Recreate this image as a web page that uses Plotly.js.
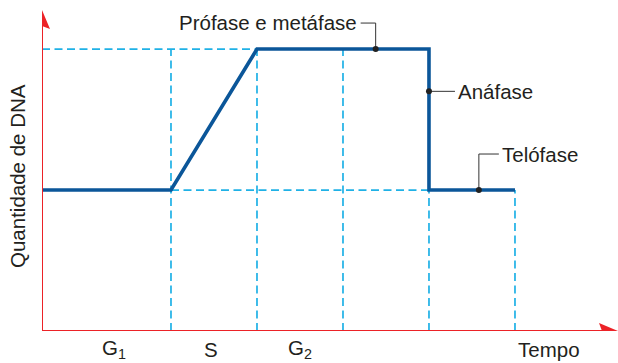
<!DOCTYPE html>
<html>
<head>
<meta charset="utf-8">
<script src="https://cdn.plot.ly/plotly-3.0.1.min.js"></script>
<style>html,body{margin:0;padding:0;background:#fff;}#chart{width:618px;height:363px;}</style>
</head>
<body>
<div id="chart"></div>
<script>
// ---- data ----
const timeX = [0, 1.5, 2.5, 4.5, 4.5, 5.5];
const dnaY  = [1, 1, 2, 2, 1, 1];
const phaseBounds = [1.5, 2.5, 3.5, 4.5, 5.5];
const boundTops   = [2, 2, 2, 1, 1];
const phaseLabels = ['G<sub>1</sub>', 'S', 'G<sub>2</sub>'];
const phaseLabelX = [0.84, 1.97, 3.0];
const eventLabels = ['Prófase e metáfase', 'Anáfase', 'Telófase'];
const eventDotX   = [3.88, 4.5, 5.08];
const eventDotY   = [2, 1.70, 1];
const xLabel = 'Tempo';
const yLabel = 'Quantidade de DNA';

// ---- layout constants ----
const XMAX = 6.698, YMAX = 2.277;
const PXX = 86, PXY = 141; // px per unit
const PLOTW = 576, PLOTH = 321;
const RED = '#ec2227', BLUE = '#0b5699', CYAN = '#1fb1e6', FONT = 'Liberation Sans, Arial, sans-serif';

const traces = [];
// dashed guide lines
const gx = [], gy = [];
phaseBounds.forEach((b, i) => { gx.push(b, b, null); gy.push(0, boundTops[i], null); });
gx.push(0, phaseBounds[1], null); gy.push(2, 2, null);
gx.push(phaseBounds[0], phaseBounds[4], null); gy.push(1, 1, null);
traces.push({x: gx, y: gy, mode: 'lines', line: {color: CYAN, width: 1.7, dash: '8px,4.5px'}, hoverinfo: 'skip', showlegend: false});
// main DNA line
traces.push({x: timeX, y: dnaY, mode: 'lines', line: {color: BLUE, width: 3.6}, showlegend: false});

// leader lines (elbow) for event labels
const lx = [], ly = [];
lx.push(eventDotX[0], eventDotX[0], eventDotX[0] - 15/PXX, null); ly.push(eventDotY[0], eventDotY[0] + 26/PXY, eventDotY[0] + 26/PXY, null);
lx.push(eventDotX[1], eventDotX[1] + 26/PXX, null); ly.push(eventDotY[1], eventDotY[1], null);
lx.push(eventDotX[2], eventDotX[2], eventDotX[2] + 20/PXX, null); ly.push(eventDotY[2], eventDotY[2] + 36/PXY, eventDotY[2] + 36/PXY, null);
traces.push({x: lx, y: ly, mode: 'lines', line: {color: '#333', width: 1}, hoverinfo: 'skip', showlegend: false});
traces.push({x: eventDotX, y: eventDotY, mode: 'markers', marker: {color: '#222', size: 6}, showlegend: false});

const annotations = [];
const tf = {family: FONT, size: 20.5, color: '#231f20'};
annotations.push({x: eventDotX[0] - 17/PXX, y: eventDotY[0] + 27/PXY, xref: 'x', yref: 'y', text: eventLabels[0], showarrow: false, xanchor: 'right', yanchor: 'middle', font: tf});
annotations.push({x: eventDotX[1] + 27/PXX, y: eventDotY[1], xref: 'x', yref: 'y', text: eventLabels[1], showarrow: false, xanchor: 'left', yanchor: 'middle', font: tf});
annotations.push({x: eventDotX[2] + 21/PXX, y: eventDotY[2] + 36/PXY, xref: 'x', yref: 'y', text: eventLabels[2], showarrow: false, xanchor: 'left', yanchor: 'middle', font: tf});
phaseLabels.forEach((t, i) => annotations.push({x: phaseLabelX[i] / XMAX, y: -18/PLOTH, xref: 'paper', yref: 'paper', text: t, showarrow: false, xanchor: 'center', yanchor: 'middle', font: tf}));
annotations.push({x: 474/PLOTW, y: -18/PLOTH, xref: 'paper', yref: 'paper', text: xLabel, showarrow: false, xanchor: 'left', yanchor: 'middle', font: tf});
annotations.push({x: -25/PLOTW, y: (331-176)/PLOTH, xref: 'paper', yref: 'paper', text: yLabel, textangle: -90, showarrow: false, xanchor: 'center', yanchor: 'middle', font: tf});

const shapes = [
  {type: 'line', xref: 'x', yref: 'y', x0: 0, y0: 0, x1: XMAX - 10/PXX, y1: 0, line: {color: RED, width: 2}},
  {type: 'line', xref: 'x', yref: 'y', x0: 0, y0: 0, x1: 0, y1: YMAX - 10/PXY, line: {color: RED, width: 2}},
  {type: 'path', xref: 'x', yref: 'y', path: `M${XMAX},0 L${XMAX-19/PXX},${8/PXY} L${XMAX-16/PXX},0 L${XMAX-19/PXX},${-8/PXY} Z`, fillcolor: RED, line: {width: 0}},
  {type: 'path', xref: 'x', yref: 'y', path: `M0,${YMAX} L${-8/PXX},${YMAX-19/PXY} L0,${YMAX-16/PXY} L${8/PXX},${YMAX-19/PXY} Z`, fillcolor: RED, line: {width: 0}}
];

const layout = {
  width: 618, height: 363,
  margin: {l: 42, r: 0, t: 10, b: 32, pad: 0},
  paper_bgcolor: '#fff', plot_bgcolor: '#fff',
  xaxis: {range: [0, XMAX], visible: false, fixedrange: true},
  yaxis: {range: [0, YMAX], visible: false, fixedrange: true},
  shapes: shapes, annotations: annotations, showlegend: false
};
Plotly.newPlot('chart', traces, layout, {staticPlot: true});
</script>
</body>
</html>
